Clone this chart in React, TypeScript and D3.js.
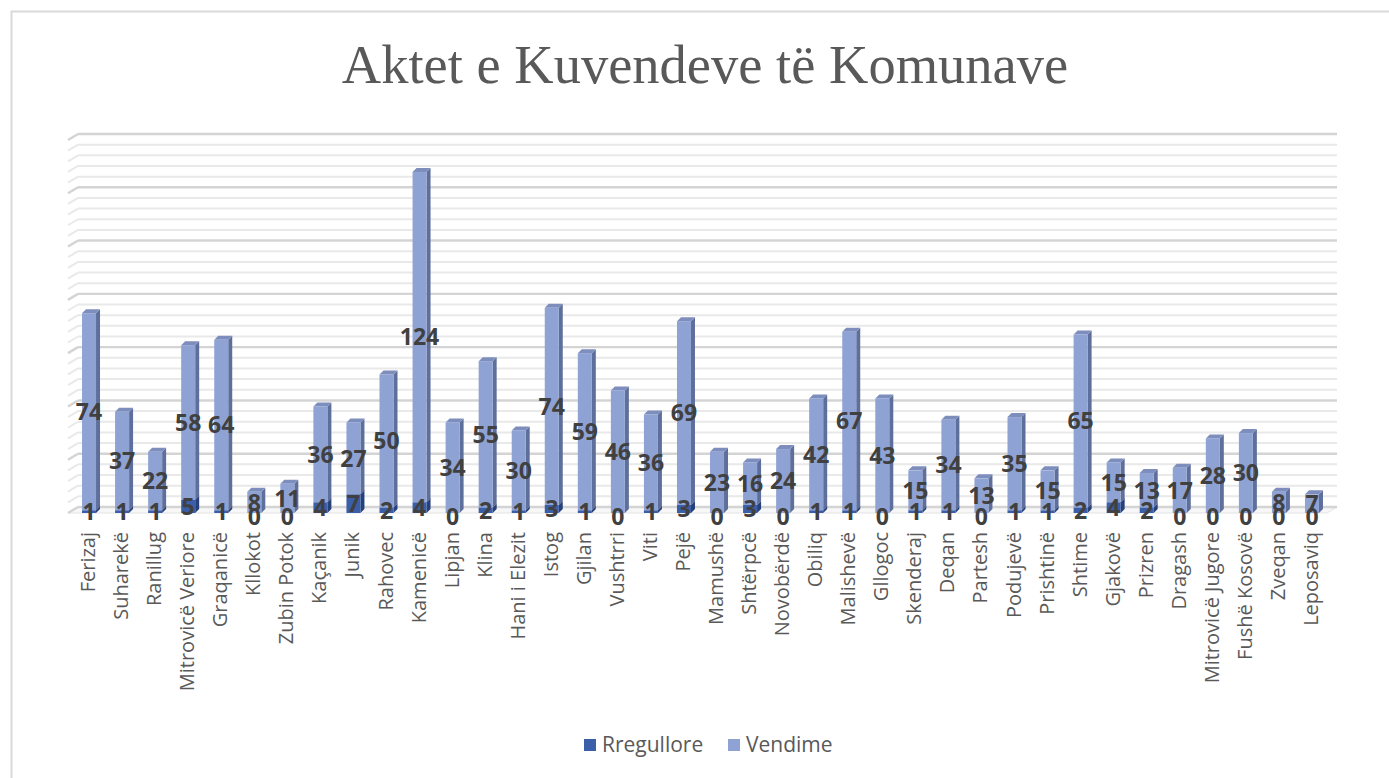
import React, { useRef, useEffect } from 'react';
import * as d3 from 'd3';

const categories = [
  'Ferizaj', 'Suharekë', 'Ranillug', 'Mitrovicë Veriore', 'Graqanicë', 'Kllokot', 'Zubin Potok',
  'Kaçanik', 'Junik', 'Rahovec', 'Kamenicë', 'Lipjan', 'Klina', 'Hani i Elezit', 'Istog', 'Gjilan',
  'Vushtrri', 'Viti', 'Pejë', 'Mamushë', 'Shtërpcë', 'Novobërdë', 'Obiliq', 'Malishevë', 'Gllogoc',
  'Skenderaj', 'Deqan', 'Partesh', 'Podujevë', 'Prishtinë', 'Shtime', 'Gjakovë', 'Prizren',
  'Dragash', 'Mitrovicë Jugore', 'Fushë Kosovë', 'Zveqan', 'Leposaviq',
];
const rregullore = [1, 1, 1, 5, 1, 0, 0, 4, 7, 2, 4, 0, 2, 1, 3, 1, 0, 1, 3, 0, 3, 0, 1, 1, 0, 1, 1, 0, 1, 1, 2, 4, 2, 0, 0, 0, 0, 0];
const vendime = [74, 37, 22, 58, 64, 8, 11, 36, 27, 50, 124, 34, 55, 30, 74, 59, 46, 36, 69, 23, 16, 24, 42, 67, 43, 15, 34, 13, 35, 15, 65, 15, 13, 17, 28, 30, 8, 7];
const seriesNames = ['Rregullore', 'Vendime'];
const axisMax = 140;

const W = 1389;
const H = 778;

const App = () => {
  const ref = useRef<SVGSVGElement>(null);

  useEffect(() => {
    const svg = d3.select(ref.current);
    svg.selectAll('*').remove();

    // chart frame
    svg.append('rect')
      .attr('x', 11.5).attr('y', 11.5)
      .attr('width', W + 20).attr('height', H + 20)
      .attr('fill', '#fff').attr('stroke', '#d9d9d9').attr('stroke-width', 2);

    svg.append('text')
      .attr('x', 705).attr('y', 83)
      .attr('text-anchor', 'middle')
      .attr('font-family', '"Liberation Serif", serif')
      .attr('font-size', 54.5)
      .attr('fill', '#595959')
      .text('Aktet e Kuvendeve të Komunave');

    const y = d3.scaleLinear().domain([0, axisMax]).range([513, 140]);
    const dx = 10, dy = -6; // depth of the walls
    const x = d3.scaleBand().domain(categories).range([72.5, 1328.5]).padding(0);
    const wallX0 = 68 + dx;
    const wallX1 = 1337;

    // floor
    svg.append('path')
      .attr('d', `M68,${y(0)}L${wallX0},${y(0) + dy}L${wallX1},${y(0) + dy}L${wallX1 - dx},${y(0)}Z`)
      .attr('fill', '#f7f7f7').attr('stroke', '#e3e3e3').attr('stroke-width', 1);

    const ticks = d3.range(0, axisMax + 1, 4);
    ticks.forEach((t) => {
      const major = t % 20 === 0;
      const yy = y(t) + dy;
      const stroke = major ? '#d4d4d4' : '#e9e9e9';
      const sw = major ? 2.4 : 2;
      svg.append('line')
        .attr('x1', wallX0).attr('x2', wallX1)
        .attr('y1', yy).attr('y2', yy)
        .attr('stroke', stroke).attr('stroke-width', sw);
      svg.append('line')
        .attr('x1', 68).attr('x2', wallX0)
        .attr('y1', yy - dy).attr('y2', yy)
        .attr('stroke', stroke).attr('stroke-width', sw);
    });

    const barW = 14;
    const sd = 4; // side depth
    const colors = [
      { front: '#3b5ea9', side: '#26407a', top: '#4a6cb5' },
      { front: '#8fa2d4', side: '#5f6f9b', top: '#7d8ebd' },
    ];

    const drawBox = (g, x0, y0, y1, c, drawTop) => {
      // y0 bottom, y1 top
      g.append('path')
        .attr('d', `M${x0 + barW},${y0}L${x0 + barW + sd},${y0 - sd}L${x0 + barW + sd},${y1 - sd}L${x0 + barW},${y1}Z`)
        .attr('fill', c.side);
      if (drawTop) {
        g.append('path')
          .attr('d', `M${x0},${y1}L${x0 + sd},${y1 - sd}L${x0 + barW + sd},${y1 - sd}L${x0 + barW},${y1}Z`)
          .attr('fill', c.top);
      }
      g.append('rect')
        .attr('x', x0).attr('y', y1)
        .attr('width', barW).attr('height', Math.max(0, y0 - y1))
        .attr('fill', c.front);
    };

    const bars = svg.append('g');
    categories.forEach((cat, i) => {
      const cx = x(cat) + x.bandwidth() / 2;
      const x0 = cx - barW / 2;
      const r = rregullore[i];
      const v = vendime[i];
      if (v > 0) drawBox(bars, x0, y(r), y(r + v), colors[1], true);
      if (r > 0) drawBox(bars, x0, y(0), y(r), colors[0], v === 0);
    });

    const labels = svg.append('g')
      .attr('font-family', '"Open Sans", sans-serif')
      .attr('font-weight', 700)
      .attr('font-size', 23)
      .attr('fill', '#404040')
      .attr('text-anchor', 'middle');
    categories.forEach((cat, i) => {
      const cx = x(cat) + x.bandwidth() / 2;
      const r = rregullore[i];
      const v = vendime[i];
      labels.append('text')
        .attr('x', cx).attr('y', (y(r) + y(r + v)) / 2)
        .attr('dy', '0.36em')
        .text(v);
      labels.append('text')
        .attr('x', cx).attr('y', r === 0 ? y(0) + 4 : (y(0) + y(r)) / 2)
        .attr('dy', '0.36em')
        .text(r);
    });

    const cats = svg.append('g')
      .attr('font-family', '"Open Sans", sans-serif')
      .attr('font-size', 20)
      .attr('fill', '#595959')
      .attr('text-anchor', 'end');
    categories.forEach((cat) => {
      const cx = x(cat) + x.bandwidth() / 2;
      cats.append('text')
        .attr('transform', `translate(${cx - 1},532) rotate(-90)`)
        .attr('dy', '0.35em')
        .text(cat);
    });

    const legend = svg.append('g')
      .attr('font-family', '"Open Sans", sans-serif')
      .attr('font-size', 21)
      .attr('fill', '#595959');
    const legendX = [584, 728];
    seriesNames.forEach((name, i) => {
      legend.append('rect')
        .attr('x', legendX[i]).attr('y', 739)
        .attr('width', 12).attr('height', 12)
        .attr('fill', colors[i].front);
      legend.append('text')
        .attr('x', legendX[i] + 18).attr('y', 745)
        .attr('dy', '0.35em')
        .text(name);
    });

    return () => {
      d3.select(ref.current).selectAll('*').remove();
    };
  }, []);

  return (
    <svg ref={ref} width={W} height={H} style={{ position: 'absolute', left: 0, top: 0, background: '#fff' }}></svg>
  );
};

export default App;
